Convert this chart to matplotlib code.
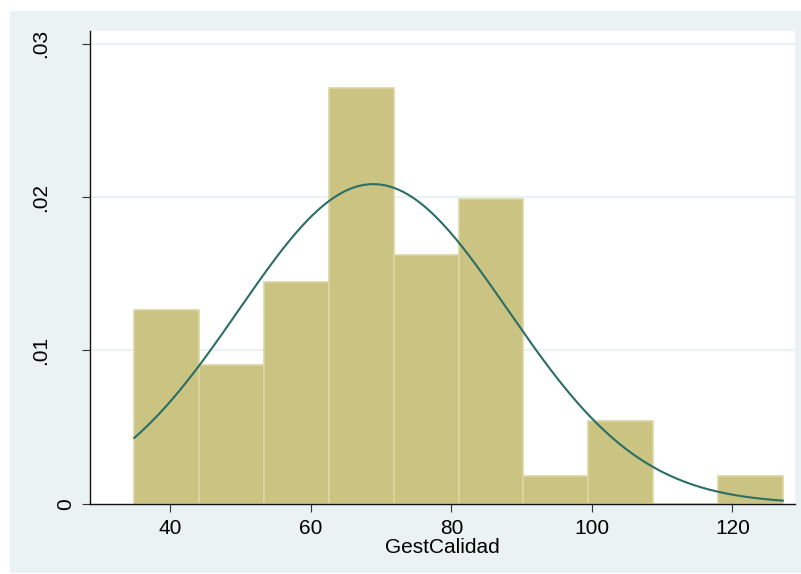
import numpy as np
import matplotlib
matplotlib.use("AGG")
import matplotlib.pyplot as plt
import matplotlib.transforms as mtransforms
from matplotlib.patches import Rectangle

# histogram (60 obs, 10 bins)
bin_edges = [34.88, 44.11, 53.34, 62.57, 71.80, 81.03, 90.26, 99.49, 108.72, 117.95, 127.18]
counts = [7, 5, 8, 15, 9, 11, 1, 3, 0, 1]
n_obs = 60

# normal overlay
norm_mean = 68.9
norm_sd = 19.14

xticks = [40, 60, 80, 100, 120]
yticks = [0, 0.01, 0.02, 0.03]
ytick_labels = ["0", ".01", ".02", ".03"]
xlabel = "GestCalidad"

bg = "#eaf2f3"
plt.rcParams["font.family"] = ["Liberation Sans", "DejaVu Sans"]

fig = plt.figure(figsize=(8.01, 5.74), dpi=100, facecolor="white")
W, H = 801, 574
fig.add_artist(Rectangle((10 / W, 1 / H), (W - 10) / W, (H - 12) / H,
                         transform=fig.transFigure, facecolor=bg,
                         edgecolor="none", zorder=-10))

ax = fig.add_axes([90 / W, 70.3 / H, 705 / W, 472.7 / H])
ax.set_zorder(1)
ax.set_facecolor("white")

widths = np.diff(bin_edges)
dens = np.array(counts) / (n_obs * widths)
ax.bar(bin_edges[:-1], dens, width=widths, align="edge",
       color="#cbc382", edgecolor="#dcd6a2", linewidth=1.2, zorder=2)

xs = np.linspace(bin_edges[0], bin_edges[-1], 300)
ys = np.exp(-0.5 * ((xs - norm_mean) / norm_sd) ** 2) / (norm_sd * np.sqrt(2 * np.pi))
ax.plot(xs, ys, color="#2a6e66", linewidth=1.5, zorder=3)

ax.set_xlim(28.57, 128.92)
ax.set_ylim(0, 0.03083)

for v in yticks[1:]:
    ax.axhline(v, color=bg, linewidth=1.6, zorder=1)

for s in ["top", "right"]:
    ax.spines[s].set_visible(False)
for s in ["left", "bottom"]:
    ax.spines[s].set_color("#111111")
    ax.spines[s].set_linewidth(1.0)

ax.set_xticks(xticks)
ax.set_xticklabels([str(t) for t in xticks], fontsize=15)
ax.tick_params(axis="x", length=6, width=0.8, color="#333333", pad=5)
ax.set_yticks(yticks)
ax.set_yticklabels([])
ax.tick_params(axis="y", length=6, width=0.8, color="#333333")

# y labels drawn as rotated text (Stata places the zero closer to the axis)
trans = mtransforms.blended_transform_factory(fig.transFigure, ax.transData)
for v, lab in zip(yticks, ytick_labels):
    xpix = 66 if lab == "0" else 40.5
    ax.text(xpix / W, v, lab, transform=trans, rotation=90, fontsize=15,
            ha="center", va="center", clip_on=False)

ax.set_xlabel(xlabel, fontsize=15, labelpad=0)

fig.savefig("out.png", dpi=100, facecolor=fig.get_facecolor())
